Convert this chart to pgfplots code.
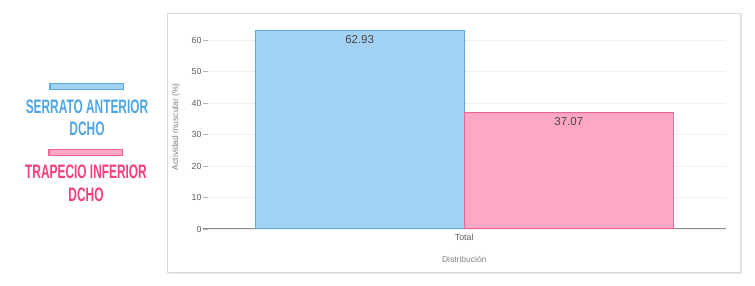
\documentclass[border=0pt]{standalone}
\usepackage{pgfplots}
\pgfplotsset{compat=1.18}
\usepackage{fontspec}
\setmainfont{Liberation Sans}
\definecolor{blueF}{RGB}{162,210,243}
\definecolor{blueB}{RGB}{90,170,232}
\definecolor{pinkF}{RGB}{255,168,196}
\definecolor{pinkB}{RGB}{240,100,150}
\definecolor{blueT}{RGB}{80,165,228}
\definecolor{pinkT}{RGB}{246,62,126}
\definecolor{tickc}{RGB}{95,95,95}
\definecolor{titc}{RGB}{130,130,130}
\newcommand{\leg}[1]{\scalebox{0.61}[1]{\fontsize{19.5}{20}\selectfont\bfseries #1}}
\begin{document}
\begin{tikzpicture}
\begin{scope}[x=1pt,y=1pt]
\useasboundingbox (0,0) rectangle (755,286);
% panel
\fill[black!10] (168.5,12) rectangle (742,272.5);
\fill[white] (167,14) rectangle (740,273);
\draw[black!14, line width=0.8pt] (167,14) rectangle (740,273);
% legend
\draw[blueB, fill=blueF, line width=1.4pt] (50,196.5) rectangle (123.5,202.5);
\node[text=blueT] at (87,179.7) {\leg{SERRATO ANTERIOR}};
\node[text=blueT] at (87,157.7) {\leg{DCHO}};
\draw[pinkB, fill=pinkF, line width=1.4pt] (49,130.5) rectangle (122.5,136.5);
\node[text=pinkT] at (86,114.7) {\leg{TRAPECIO INFERIOR}};
\node[text=pinkT] at (86,91) {\leg{DCHO}};
\draw[black!45, line width=1pt] (203,57) -- (209,57);
\end{scope}
\begin{axis}[
  at={(208pt,57pt)}, anchor=south west,
  scale only axis, width=517.7pt, height=204.75pt,
  xmin=-0.98, xmax=1, ymin=0, ymax=65,
  axis lines=left, axis line style={-},
  y axis line style={draw=none},
  x axis line style={draw=black!45, line width=1pt},
  ytick={0,10,20,30,40,50,60},
  xtick={0}, xticklabels={Total},
  xtick style={draw=none},
  ytick style={draw=black!30, line width=0.6pt},
  tick align=outside, major tick length=5pt,
  yticklabel style={xshift=2pt},
  xticklabel style={yshift=3pt},
  ymajorgrids, grid style={draw=black!6, line width=0.7pt},
  ticklabel style={font=\fontsize{8.8}{10}\selectfont, text=tickc},
  /pgf/number format/assume math mode=true,
  ylabel={Actividad muscular (\%)},
  xlabel={Distribución},
  label style={font=\fontsize{8.5}{10}\selectfont, text=titc},
  ylabel style={at={(axis description cs:-0.062,0.5)}, anchor=center, rotate=0},
  xlabel style={at={(axis description cs:0.495,0)}, anchor=center, yshift=-30pt},
  clip=false,
]
\addplot[ybar, bar width=0.8, bar shift=0, fill=blueF, draw=blueB, line width=1pt,
  nodes near coords, nodes near coords style={anchor=north, yshift=-1pt, font=\fontsize{11.5}{13}\selectfont, text=black!72},
  point meta=explicit symbolic]
  coordinates {(-0.4,62.93) [62.93]};
\addplot[ybar, bar width=0.8, bar shift=0, fill=pinkF, draw=pinkB, line width=1pt,
  nodes near coords, nodes near coords style={anchor=north, yshift=-1pt, font=\fontsize{11.5}{13}\selectfont, text=black!72},
  point meta=explicit symbolic]
  coordinates {(0.4,37.07) [37.07]};
\end{axis}
\end{tikzpicture}
\end{document}
